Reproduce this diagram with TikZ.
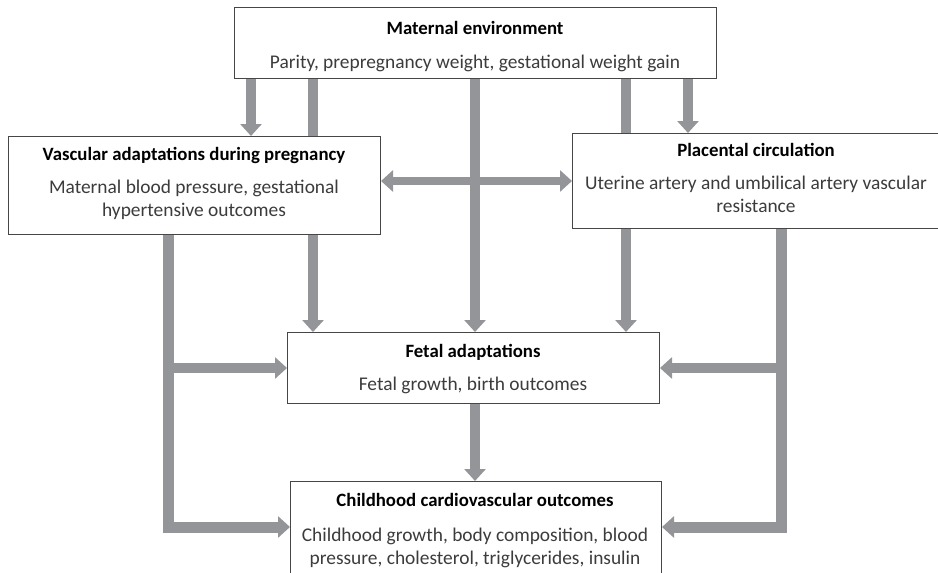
\documentclass[tikz,border=0pt]{standalone}
\usepackage{fontspec}
\setmainfont{Carlito}
\usetikzlibrary{arrows.meta,backgrounds}
\definecolor{bargray}{RGB}{147,149,152}
\definecolor{boxline}{RGB}{70,70,70}
\definecolor{bodytext}{RGB}{60,60,60}
\begin{document}
\begin{tikzpicture}[x=1pt,y=-1pt,
  box/.style={draw=boxline,line width=1pt,fill=white,inner sep=0pt,anchor=north west},
  ttl/.style={font=\fontsize{18.8}{23}\selectfont\bfseries,text=black,anchor=base,inner sep=0pt},
  bdy/.style={font=\fontsize{19.4}{23}\selectfont,text=bodytext,anchor=base,inner sep=0pt,align=center},
  bar/.style={draw=bargray,line width=10pt,line join=miter,-{Triangle[width=21pt,length=12pt]}},
  thick bar/.style={bar,line width=11pt},
  dbar/.style={draw=bargray,line width=8pt,{Triangle[width=21pt,length=12pt]}-{Triangle[width=21pt,length=12pt]}}
]
\useasboundingbox (0,0) rectangle (938,573);
\clip (0,0) rectangle (938,573);

% boxes
\node[box,minimum width=482pt,minimum height=71pt] (mat) at (234,7) {};
\node[box,minimum width=372pt,minimum height=98pt] (vas) at (8,136) {};
\node[box,minimum width=370pt,minimum height=95pt] (pla) at (572,133) {};
\node[box,minimum width=372pt,minimum height=71pt] (fet) at (287,332) {};
\node[box,minimum width=371pt,minimum height=120pt] (chi) at (290,481) {};

% texts (multi-line nodes: base = last line)
\node[ttl] (matT) at (475,34) {Maternal environment};
\node[bdy] (matB) at (475,68) {Parity, prepregnancy weight, gestational weight gain};
\node[ttl] (vasT) at (194,160) {Vascular adaptations during pregnancy};
\node[bdy] (vasB) at (194,216) {Maternal blood pressure, gestational\\hypertensive outcomes};
\node[ttl] (plaT) at (756,156) {Placental circulation};
\node[bdy] (plaB) at (756,212) {Uterine artery and umbilical artery vascular\\resistance};
\node[ttl] (fetT) at (473,357) {Fetal adaptations};
\node[bdy] (fetB) at (473,390) {Fetal growth, birth outcomes};
\node[ttl] (chiT) at (475,506) {Childhood cardiovascular outcomes};
\node[bdy] (chiB) at (475,564) {Childhood growth, body composition, blood\\pressure, cholesterol, triglycerides, insulin};

% helper coordinates
\coordinate (xa) at (251,0);
\coordinate (xb) at (313,0);
\coordinate (xc) at (475,0);
\coordinate (xd) at (626,0);
\coordinate (xe) at (688,0);
\coordinate (dy) at (0,181);
\coordinate (lc) at (168,527);
\coordinate (rc) at (781,527);

\begin{pgfonlayer}{background}
\draw[bar] (mat.south -| xa) -- (vas.north -| xa);
\draw[bar] (mat.south -| xb) -- (fet.north -| xb);
\draw[bar] (mat.south -| xc) -- (fet.north -| xc);
\draw[bar] (mat.south -| xd) -- (fet.north -| xd);
\draw[bar] (mat.south -| xe) -- (pla.north -| xe);
\draw[dbar] (vas.east |- dy) -- (pla.west |- dy);
\draw[bar] (fet.south -| xc) -- (chi.north -| xc);
\draw[thick bar] (vas.south -| lc) |- (chi.west |- lc);
\draw[bar] (lc |- fet.west) -- (fet.west);
\draw[thick bar] (pla.south -| rc) |- (chi.east |- rc);
\draw[bar] (rc |- fet.east) -- (fet.east);
\end{pgfonlayer}
\end{tikzpicture}
\end{document}
